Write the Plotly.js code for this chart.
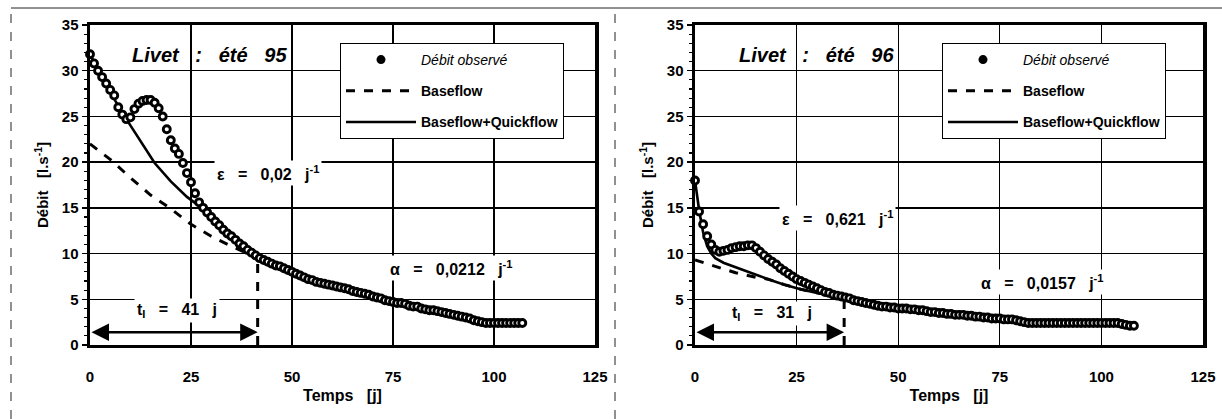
<!DOCTYPE html>
<html><head><meta charset="utf-8">
<script src="https://cdn.plot.ly/plotly-3.0.1.min.js"></script>
<style>html,body{margin:0;padding:0;background:#fff;}</style>
</head><body>
<div id="chart" style="width:1222px;height:419px;"></div>
<script>
// ---------- Livet : été 95 ----------
const days95 = [0,1,2,3,4,5,6,7,8,9,10,11,12,13,14,15,16,17,18,19,20,21,22,23,24,25,26,27,28,29,30,31,32,33,34,35,36,37,38,39,40,41,42,43,44,45,46,47,48,49,50,51,52,53,54,55,56,57,58,59,60,61,62,63,64,65,66,67,68,69,70,71,72,73,74,75,76,77,78,79,80,81,82,83,84,85,86,87,88,89,90,91,92,93,94,95,96,97,98,99,100,101,102,103,104,105,106,107];
const obs95 = [31.8,30.8,30.0,29.3,28.6,27.9,27.3,26.0,25.2,24.7,24.9,25.8,26.4,26.7,26.8,26.8,26.5,25.9,25.0,23.6,22.4,21.5,20.9,19.9,18.8,17.8,16.6,15.6,15.0,14.5,14.0,13.5,13.1,12.6,12.2,11.9,11.5,11.1,10.8,10.4,10.1,9.8,9.5,9.3,9.1,8.9,8.7,8.6,8.4,8.2,8.0,7.8,7.6,7.4,7.2,7.1,6.9,6.8,6.7,6.6,6.5,6.4,6.3,6.2,6.1,5.9,5.8,5.7,5.6,5.5,5.3,5.2,5.1,4.9,4.8,4.7,4.6,4.6,4.5,4.3,4.2,4.2,4.0,3.9,3.8,3.8,3.7,3.6,3.5,3.4,3.3,3.2,3.1,3.0,2.9,2.7,2.6,2.5,2.4,2.4,2.4,2.4,2.4,2.4,2.4,2.4,2.4,2.4];
const baseDays95 = [0,5,10,15,20,25,30,35,41,50,60,70,80,90,100,107];
const base95 = [22.0,20.3,18.3,16.4,14.9,13.2,11.9,10.8,9.6,8.0,6.5,5.3,4.2,3.3,2.4,2.4];
const quickDays95 = [0,3,6,9,12,16,20,24,27,30,33,36,41,50,60,70,80,90,100,107];
const quick95 = [31.8,29.3,26.9,24.7,22.7,19.9,17.9,16.2,15.2,14.0,12.6,11.5,9.8,8.0,6.5,5.3,4.2,3.3,2.4,2.4];

// ---------- Livet : été 96 ----------
const days96 = [0,1,2,3,4,5,6,7,8,9,10,11,12,13,14,15,16,17,18,19,20,21,22,23,24,25,26,27,28,29,30,31,32,33,34,35,36,37,38,39,40,41,42,43,44,45,46,47,48,49,50,51,52,53,54,55,56,57,58,59,60,61,62,63,64,65,66,67,68,69,70,71,72,73,74,75,76,77,78,79,80,81,82,83,84,85,86,87,88,89,90,91,92,93,94,95,96,97,98,99,100,101,102,103,104,105,106,107,108];
const obs96 = [18.0,14.6,13.2,11.9,11.0,10.4,10.2,10.3,10.4,10.6,10.7,10.8,10.8,10.9,10.9,10.6,10.2,9.8,9.4,9.1,8.8,8.4,8.1,7.8,7.5,7.2,7.0,6.8,6.6,6.4,6.2,6.0,5.8,5.7,5.5,5.4,5.3,5.2,5.1,4.9,4.8,4.7,4.6,4.5,4.4,4.3,4.2,4.2,4.1,4.1,4.0,4.0,4.0,3.9,3.9,3.8,3.8,3.7,3.6,3.6,3.5,3.5,3.4,3.4,3.3,3.3,3.3,3.2,3.2,3.1,3.1,3.0,3.0,2.9,2.9,2.9,2.8,2.8,2.8,2.7,2.6,2.5,2.4,2.4,2.4,2.4,2.4,2.4,2.4,2.4,2.4,2.4,2.4,2.4,2.4,2.4,2.4,2.4,2.4,2.4,2.4,2.4,2.4,2.4,2.4,2.3,2.2,2.1,2.1];
const baseDays96 = [0,5,10,15,18,22,26,30,34,37,45,55,65,75,85,95,108];
const base96 = [9.3,8.6,7.9,7.4,7.2,6.6,6.1,5.7,5.4,5.2,4.4,3.9,3.3,2.9,2.4,2.4,2.1];
const quickDays96 = [0,1,2,3,4,5,7,10,14,18,22,26,30,34,37,45,55,65,75,85,95,108];
const quick96 = [18.0,14.8,12.3,10.8,10.0,9.5,9.0,8.5,7.9,7.2,6.6,6.1,5.7,5.4,5.2,4.4,3.9,3.3,2.9,2.4,2.4,2.1];

// annotations values
const tI95 = 41.5, tI95label = '41', tI95top = 9.5;
const tI96 = 36.7, tI96label = '31', tI96top = 5.0;
const eps95 = '0,02', alpha95 = '0,0212';
const eps96 = '0,621', alpha96 = '0,0157';
const arrowLevel = 1.4;

const F = 'Liberation Sans, Arial, Helvetica, sans-serif';
const S = '\u00a0';
const S3 = S + S + S;

function lineTraces(xa, ya, leg, days, obs, bd, bv, qd, qv) {
  return [
    {x: bd, y: bv, xaxis: xa, yaxis: ya, mode: 'lines', name: '<b>Baseflow</b>', legend: leg, legendgroup: leg + 'b', legendrank: 2,
     line: {color: '#000', width: 3, dash: '9px,9px'}, cliponaxis: false},
    {x: qd, y: qv, xaxis: xa, yaxis: ya, mode: 'lines', name: '<b>Baseflow+Quickflow</b>', legend: leg, legendgroup: leg + 'q', legendrank: 3,
     line: {color: '#000', width: 2.6}, cliponaxis: false},
    {x: days, y: obs, xaxis: xa, yaxis: ya, mode: 'markers', showlegend: false,
     marker: {symbol: 'circle', size: 7, color: '#fff', line: {color: '#000', width: 2.9}}, cliponaxis: false},
    {x: [null], y: [null], xaxis: xa, yaxis: ya, mode: 'markers', name: '<i>Débit observé</i>', legend: leg, legendgroup: leg + 'o', legendrank: 1,
     marker: {symbol: 'circle', size: 9, color: '#000'}}
  ];
}

const data = [].concat(
  lineTraces('x', 'y', 'legend', days95, obs95, baseDays95, base95, quickDays95, quick95),
  lineTraces('x2', 'y2', 'legend2', days96, obs96, baseDays96, base96, quickDays96, quick96)
);

function xax(domain, anchor) {
  return {domain: domain, anchor: anchor, range: [0, 125], tick0: 0, dtick: 25,
    showgrid: true, gridcolor: '#000', gridwidth: 1.3, zeroline: false,
    showline: true, linecolor: '#000', linewidth: 3, mirror: true,
    ticks: '', ticklabelstandoff: 16,
    tickfont: {family: F, size: 15, color: '#000', weight: 'bold'},
    title: {text: 'Temps' + S3 + '[j]', font: {family: F, size: 16, color: '#000', weight: 'bold'}, standoff: 6}};
}
function yax(domain, anchor) {
  return {domain: domain, anchor: anchor, range: [0, 35], tick0: 0, dtick: 5,
    showgrid: true, gridcolor: '#000', gridwidth: 1.3, zeroline: false,
    showline: true, linecolor: '#000', linewidth: 3.5, mirror: true,
    ticks: 'outside', ticklen: 5, tickwidth: 1.5, tickcolor: '#000',
    minor: {dtick: 1, ticks: 'outside', ticklen: 3, tickwidth: 1.2, tickcolor: '#000', showgrid: false},
    tickfont: {family: F, size: 15, color: '#000', weight: 'bold'},
    title: {text: 'Débit' + S3 + '[l.s<sup>-1</sup>]', font: {family: F, size: 15, color: '#000', weight: 'bold'}, standoff: 10}};
}

const yDom = [74 / 419, 394 / 419];

function legendCfg(xpos) {
  return {x: xpos, y: 376 / 419, xanchor: 'left', yanchor: 'top', xref: 'paper', yref: 'paper',
    bgcolor: '#fff', bordercolor: '#000', borderwidth: 1,
    font: {family: F, size: 14, color: '#000'}, itemwidth: 70,
    traceorder: 'grouped', tracegroupgap: 10, itemclick: false};
}

function txt(xr, yr, x, y, text, size, extra) {
  return Object.assign({xref: xr, yref: yr, x: x, y: y, text: text, showarrow: false,
    font: {family: F, size: size, color: '#000', weight: 'bold'}, bgcolor: '#fff', borderpad: 2,
    xanchor: 'center', yanchor: 'middle'}, extra || {});
}
function arrow(xr, yr, xEnd) {
  return {xref: xr, yref: yr, axref: xr, ayref: yr, x: xEnd, y: arrowLevel, ax: 0, ay: arrowLevel,
    text: '', showarrow: true, arrowhead: 2, startarrowhead: 2, arrowside: 'end+start',
    arrowwidth: 2.5, arrowsize: 1.4, startarrowsize: 1.4, arrowcolor: '#000'};
}

const annotations = [
  txt('x', 'y', 29.7, 31.7, '<i>Livet' + S3 + ':' + S3 + 'été' + S3 + '95</i>', 20, {bgcolor: 'rgba(0,0,0,0)'}),
  txt('x', 'y', 44, 18.8, 'ε' + S3 + '=' + S3 + eps95 + S3 + 'j<sup>-1</sup>', 16),
  txt('x', 'y', 89.4, 8.4, 'α' + S3 + '=' + S3 + alpha95 + S3 + 'j<sup>-1</sup>', 16),
  txt('x', 'y', 21.5, 3.8, 't<sub>I</sub>' + S3 + '=' + S3 + tI95label + S3 + 'j', 16),
  arrow('x', 'y', tI95),
  txt('x2', 'y2', 29.8, 31.7, '<i>Livet' + S3 + ':' + S3 + 'été' + S3 + '96</i>', 20, {bgcolor: 'rgba(0,0,0,0)'}),
  txt('x2', 'y2', 35, 13.9, 'ε' + S3 + '=' + S3 + eps96 + S3 + 'j<sup>-1</sup>', 16),
  txt('x2', 'y2', 85.6, 6.9, 'α' + S3 + '=' + S3 + alpha96 + S3 + 'j<sup>-1</sup>', 16),
  txt('x2', 'y2', 19, 3.5, 't<sub>I</sub>' + S3 + '=' + S3 + tI96label + S3 + 'j', 16),
  arrow('x2', 'y2', tI96)
];

const shapes = [
  {type: 'line', xref: 'x', yref: 'y', x0: tI95, x1: tI95, y0: 0, y1: tI95top, line: {color: '#000', width: 3, dash: 'dash'}},
  {type: 'line', xref: 'x2', yref: 'y2', x0: tI96, x1: tI96, y0: 0, y1: tI96top, line: {color: '#000', width: 3, dash: 'dash'}},
  // page frame
  {type: 'line', xref: 'paper', yref: 'paper', x0: 11 / 1222, x1: 1, y0: 411 / 419, y1: 411 / 419, line: {color: '#222', width: 1}},
  {type: 'line', xref: 'paper', yref: 'paper', x0: 11 / 1222, x1: 11 / 1222, y0: 0, y1: 411 / 419, line: {color: '#222', width: 1, dash: 'dash'}},
  {type: 'line', xref: 'paper', yref: 'paper', x0: 615 / 1222, x1: 615 / 1222, y0: 0, y1: 411 / 419, line: {color: '#222', width: 1, dash: 'dash'}}
];

const layout = {
  width: 1222, height: 419,
  margin: {l: 0, r: 0, t: 0, b: 0},
  paper_bgcolor: '#fff', plot_bgcolor: '#fff',
  font: {family: F, color: '#000'},
  xaxis: xax([90 / 1222, 595 / 1222], 'y'),
  yaxis: yax(yDom, 'x'),
  xaxis2: xax([695 / 1222, 1203 / 1222], 'y2'),
  yaxis2: yax(yDom, 'x2'),
  legend: legendCfg(340 / 1222),
  legend2: legendCfg(942 / 1222),
  annotations: annotations,
  shapes: shapes,
  showlegend: true
};

Plotly.newPlot('chart', data, layout, {staticPlot: true, displayModeBar: false});
</script>
</body></html>
